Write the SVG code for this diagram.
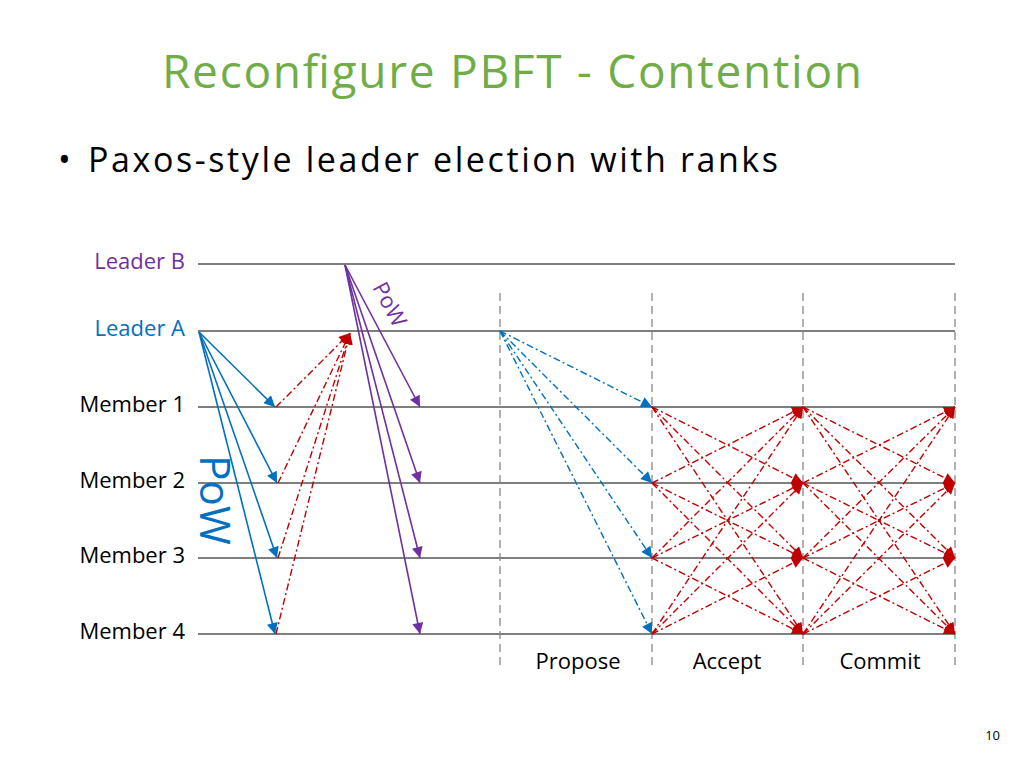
<svg xmlns="http://www.w3.org/2000/svg" width="1024" height="768" viewBox="0 0 1024 768">
<style>
text{font-family:"Open Sans",Lato,sans-serif}
.ln{stroke:#000;stroke-width:1.2}
.vd{stroke:#888;stroke-width:1.3;stroke-dasharray:8 5}
.bl{stroke:#0070C0;stroke-width:1.6;fill:none}
.pu{stroke:#7030A0;stroke-width:1.6;fill:none}
.rd{stroke:#C00000;stroke-width:1.4;fill:none;stroke-dasharray:7 3 2 3}
.bd{stroke:#0070C0;stroke-width:1.4;fill:none;stroke-dasharray:7 3 2 3}
.lb{font-size:22px}
</style>
<defs>
<marker id="ab" viewBox="0 0 10 10" refX="10" refY="5" markerUnits="userSpaceOnUse" markerWidth="15" markerHeight="11" orient="auto"><path d="M0 0L10 5L0 10z" fill="#0070C0"/></marker>
<marker id="ap" viewBox="0 0 10 10" refX="10" refY="5" markerUnits="userSpaceOnUse" markerWidth="15" markerHeight="11" orient="auto"><path d="M0 0L10 5L0 10z" fill="#7030A0"/></marker>
<marker id="ar" viewBox="0 0 10 10" refX="10" refY="5" markerUnits="userSpaceOnUse" markerWidth="15" markerHeight="11" orient="auto"><path d="M0 0L10 5L0 10z" fill="#C00000"/></marker>
</defs>
<text x="512" y="88" font-size="46" fill="#70AD47" text-anchor="middle" textLength="700">Reconfigure PBFT - Contention</text>
<text x="58" y="172" font-size="34">•</text>
<text x="88" y="172" font-size="34" textLength="690">Paxos-style leader election with ranks</text>
<g id="timelines">
<line class="ln" x1="198" y1="264" x2="955" y2="264"/>
<line class="ln" x1="198" y1="331" x2="955" y2="331"/>
<line class="ln" x1="198" y1="407" x2="955" y2="407"/>
<line class="ln" x1="198" y1="483" x2="955" y2="483"/>
<line class="ln" x1="198" y1="558" x2="955" y2="558"/>
<line class="ln" x1="198" y1="634" x2="955" y2="634"/>
<line class="vd" x1="500" y1="293" x2="500" y2="666"/>
<line class="vd" x1="652" y1="293" x2="652" y2="666"/>
<line class="vd" x1="803" y1="293" x2="803" y2="666"/>
<line class="vd" x1="955" y1="293" x2="955" y2="666"/>
</g>
<g id="labels">
<text class="lb" x="185" y="269" text-anchor="end" fill="#7030A0">Leader B</text>
<text class="lb" x="185" y="336" text-anchor="end" fill="#0070C0">Leader A</text>
<text class="lb" x="185" y="412" text-anchor="end">Member 1</text>
<text class="lb" x="185" y="488" text-anchor="end">Member 2</text>
<text class="lb" x="185" y="563" text-anchor="end">Member 3</text>
<text class="lb" x="185" y="639" text-anchor="end">Member 4</text>
<text class="lb" x="578" y="669" text-anchor="middle">Propose</text>
<text class="lb" x="727" y="669" text-anchor="middle">Accept</text>
<text class="lb" x="880" y="669" text-anchor="middle">Commit</text>
<text x="200" y="500" font-size="42" fill="#0070C0" transform="rotate(90 200 500)" text-anchor="middle">PoW</text>
<text x="383" y="308" font-size="22" fill="#7030A0" transform="rotate(62 383 308)" text-anchor="middle">PoW</text>
<text x="1000" y="740" font-size="13" text-anchor="end">10</text>
</g>
<g id="connectors">
<line class="bl" marker-end="url(#ab)" x1="199" y1="332" x2="275" y2="407"/>
<line class="bl" marker-end="url(#ab)" x1="199" y1="332" x2="277" y2="483"/>
<line class="bl" marker-end="url(#ab)" x1="199" y1="332" x2="277" y2="558"/>
<line class="bl" marker-end="url(#ab)" x1="199" y1="332" x2="275" y2="634"/>
<line class="rd" marker-end="url(#ar)" x1="276" y1="407" x2="350" y2="333"/>
<line class="rd" marker-end="url(#ar)" x1="278" y1="483" x2="350" y2="333"/>
<line class="rd" marker-end="url(#ar)" x1="278" y1="558" x2="350" y2="333"/>
<line class="rd" marker-end="url(#ar)" x1="276" y1="634" x2="350" y2="333"/>
<line class="pu" marker-end="url(#ap)" x1="345" y1="265" x2="420" y2="407"/>
<line class="pu" marker-end="url(#ap)" x1="345" y1="265" x2="420" y2="483"/>
<line class="pu" marker-end="url(#ap)" x1="345" y1="265" x2="420" y2="558"/>
<line class="pu" marker-end="url(#ap)" x1="345" y1="265" x2="420" y2="634"/>
<line class="bd" marker-end="url(#ab)" x1="500" y1="331" x2="652" y2="407"/>
<line class="bd" marker-end="url(#ab)" x1="500" y1="331" x2="652" y2="483"/>
<line class="bd" marker-end="url(#ab)" x1="500" y1="331" x2="652" y2="558"/>
<line class="bd" marker-end="url(#ab)" x1="500" y1="331" x2="652" y2="634"/>
<line class="rd" marker-end="url(#ar)" x1="652" y1="407" x2="803" y2="483"/>
<line class="rd" marker-end="url(#ar)" x1="652" y1="407" x2="803" y2="558"/>
<line class="rd" marker-end="url(#ar)" x1="652" y1="407" x2="803" y2="634"/>
<line class="rd" marker-end="url(#ar)" x1="652" y1="483" x2="803" y2="407"/>
<line class="rd" marker-end="url(#ar)" x1="652" y1="483" x2="803" y2="558"/>
<line class="rd" marker-end="url(#ar)" x1="652" y1="483" x2="803" y2="634"/>
<line class="rd" marker-end="url(#ar)" x1="652" y1="558" x2="803" y2="407"/>
<line class="rd" marker-end="url(#ar)" x1="652" y1="558" x2="803" y2="483"/>
<line class="rd" marker-end="url(#ar)" x1="652" y1="558" x2="803" y2="634"/>
<line class="rd" marker-end="url(#ar)" x1="652" y1="634" x2="803" y2="407"/>
<line class="rd" marker-end="url(#ar)" x1="652" y1="634" x2="803" y2="483"/>
<line class="rd" marker-end="url(#ar)" x1="652" y1="634" x2="803" y2="558"/>
<line class="rd" marker-end="url(#ar)" x1="803" y1="407" x2="955" y2="483"/>
<line class="rd" marker-end="url(#ar)" x1="803" y1="407" x2="955" y2="558"/>
<line class="rd" marker-end="url(#ar)" x1="803" y1="407" x2="955" y2="634"/>
<line class="rd" marker-end="url(#ar)" x1="803" y1="483" x2="955" y2="407"/>
<line class="rd" marker-end="url(#ar)" x1="803" y1="483" x2="955" y2="558"/>
<line class="rd" marker-end="url(#ar)" x1="803" y1="483" x2="955" y2="634"/>
<line class="rd" marker-end="url(#ar)" x1="803" y1="558" x2="955" y2="407"/>
<line class="rd" marker-end="url(#ar)" x1="803" y1="558" x2="955" y2="483"/>
<line class="rd" marker-end="url(#ar)" x1="803" y1="558" x2="955" y2="634"/>
<line class="rd" marker-end="url(#ar)" x1="803" y1="634" x2="955" y2="407"/>
<line class="rd" marker-end="url(#ar)" x1="803" y1="634" x2="955" y2="483"/>
<line class="rd" marker-end="url(#ar)" x1="803" y1="634" x2="955" y2="558"/>
</g>
</svg>
